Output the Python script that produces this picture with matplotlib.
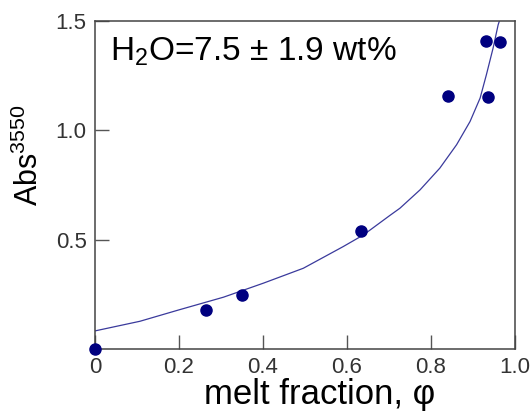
import matplotlib
matplotlib.use('Agg')
import matplotlib.pyplot as plt

plt.rcParams['font.family'] = ['Liberation Sans', 'DejaVu Sans']
plt.rcParams['mathtext.fontset'] = 'custom'
plt.rcParams['mathtext.rm'] = 'Liberation Sans'
plt.rcParams['mathtext.default'] = 'regular'

# measured absorbance vs melt fraction
melt_frac = [0.0, 0.264, 0.351, 0.633, 0.840, 0.932, 0.935, 0.964]
absorb = [0.0, 0.179, 0.247, 0.541, 1.154, 1.408, 1.151, 1.402]

# fitted curve
fit_x = [0.0, 0.107, 0.198, 0.306, 0.401, 0.496, 0.591, 0.639, 0.702, 0.726,
         0.774, 0.821, 0.861, 0.893, 0.917, 0.932, 0.948, 0.960, 0.964]
fit_y = [0.083, 0.127, 0.178, 0.237, 0.301, 0.369, 0.468, 0.521, 0.610, 0.643,
         0.727, 0.826, 0.933, 1.039, 1.146, 1.253, 1.375, 1.481, 1.504]

xticks = [0, 0.2, 0.4, 0.6, 0.8, 1.0]
xticklabels = ['0', '0.2', '0.4', '0.6', '0.8', '1.0']
yticks = [0.5, 1.0, 1.5]
yticklabels = ['0.5', '1.0', '1.5']

fig = plt.figure(figsize=(5.32, 4.12), dpi=100)
ax = fig.add_axes([0.1786, 0.1527, 0.7894, 0.7975])

ax.plot(fit_x, fit_y, color='#3a3a9c', lw=0.9)
ax.plot(melt_frac, absorb, 'o', color='#000080', ms=8, clip_on=False, zorder=3)

ax.set_xlim(0, 1.0)
ax.set_ylim(0, 1.5)
ax.set_xticks(xticks)
ax.set_xticklabels(xticklabels)
ax.set_yticks(yticks)
ax.set_yticklabels(yticklabels)
ax.tick_params(direction='in', length=10, width=1, color='#555555',
               labelsize=16, labelcolor='#333333', pad=6)

for s in ax.spines.values():
    s.set_color('#444444')
    s.set_linewidth(1.1)

ax.set_xlabel('melt fraction, φ', fontsize=25, labelpad=0, x=0.536)
ax.set_ylabel('Abs$^{3550}$', fontsize=22, labelpad=8, y=0.59)

ax.text(0.036, 0.955, 'H$_2$O=7.5 ± 1.9 wt%', transform=ax.transAxes,
        fontsize=24, va='top', ha='left')

fig.savefig('out.png', dpi=100, facecolor='white')
